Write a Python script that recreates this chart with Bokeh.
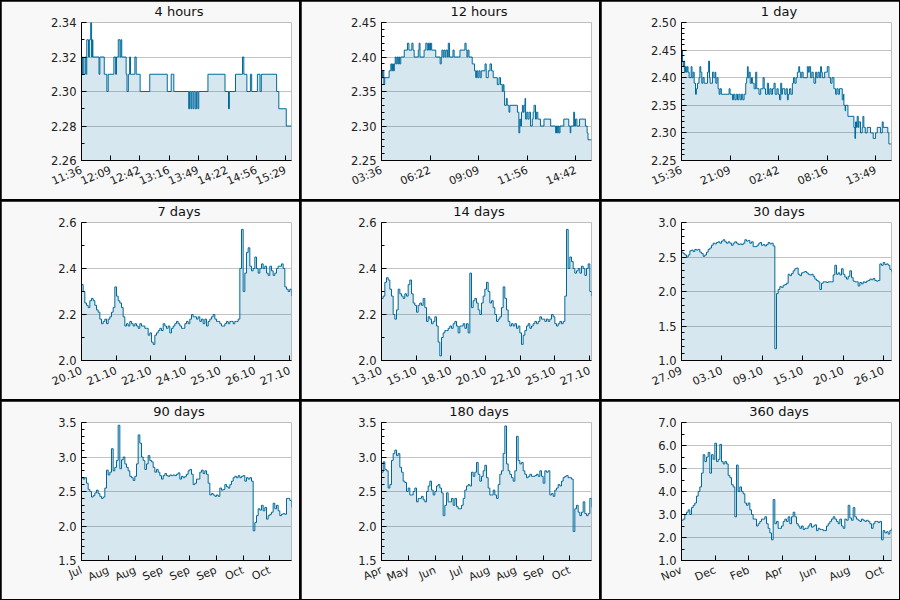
import numpy as np
from bokeh.plotting import figure
from bokeh.layouts import gridplot
from bokeh.models import Range1d, FixedTicker, PrintfTickFormatter
from bokeh.embed import file_html
from bokeh.resources import INLINE

LINE = "#00699a"
PANEL_BG = "#f8f8f8"
FONT = "DejaVu Sans"
TEXT = "#222222"
TITLE_SIZE = 13

# ---- 4 hours (minutes since 11:36) ----
t_4h = [0, 1, 2, 4, 5, 6, 8, 9, 10.5, 11.5, 12.5, 13, 20, 21, 26, 29, 30.5, 37, 39, 40,
        42, 44, 45, 46, 51, 52, 53.5, 55, 56, 61, 62.5, 67, 78, 98, 102.5, 105.5, 122.5,
        123.5, 125, 126, 127.5, 128.5, 130, 131.5, 133, 134, 144.5, 164, 168, 169, 176,
        184, 185.5, 189, 193, 194.5, 201, 204, 205.5, 223, 225.5, 234, 240]
v_4h = [2.31, 2.32, 2.31, 2.32, 2.31, 2.33, 2.32, 2.33, 2.34, 2.32, 2.33, 2.32, 2.31, 2.32,
        2.31, 2.30, 2.31, 2.32, 2.31, 2.32, 2.33, 2.32, 2.33, 2.32, 2.31, 2.30, 2.31, 2.32,
        2.31, 2.32, 2.31, 2.30, 2.31, 2.30, 2.31, 2.30, 2.29, 2.30, 2.29, 2.30, 2.29, 2.30,
        2.29, 2.30, 2.29, 2.30, 2.31, 2.30, 2.29, 2.30, 2.31, 2.32, 2.31, 2.30, 2.31, 2.30,
        2.31, 2.30, 2.31, 2.30, 2.29, 2.28, 2.28]
labels_4h = ["11:36", "12:09", "12:42", "13:16", "13:49", "14:22", "14:56", "15:29"]

# ---- 12 hours (minutes since 03:36) ----
t_12h = [0, 3, 5, 8, 11, 26, 32, 35, 38, 41, 44, 47, 50, 53, 56, 59, 62, 66, 78, 89, 94,
         104, 108, 112, 126, 129, 132, 146, 152, 157, 161, 165, 168, 172, 186, 201, 205,
         207, 211, 214, 218, 221, 226, 229, 233, 245, 249, 269, 286, 290, 293, 296, 300,
         311, 319, 323, 326, 330, 334, 338, 342, 355, 359, 366, 372, 377, 383, 397, 403,
         408, 414, 417, 420, 422, 428, 431, 437, 440, 466, 471, 474, 477, 480, 483, 486,
         489, 492, 494, 498, 502, 506, 511, 517, 520, 523, 528, 531, 536, 545, 557, 580,
         597, 600, 603, 606, 609, 612, 625, 642, 647, 649, 659, 662, 665, 670, 679, 699,
         705, 708, 720]
v_12h = [2.38, 2.37, 2.38, 2.36, 2.37, 2.38, 2.39, 2.38, 2.39, 2.38, 2.39, 2.40, 2.39,
         2.40, 2.39, 2.40, 2.39, 2.40, 2.41, 2.42, 2.41, 2.42, 2.41, 2.40, 2.41, 2.42,
         2.40, 2.41, 2.42, 2.41, 2.42, 2.41, 2.42, 2.41, 2.40, 2.39, 2.40, 2.41, 2.40,
         2.41, 2.40, 2.41, 2.40, 2.42, 2.40, 2.41, 2.40, 2.41, 2.42, 2.41, 2.40, 2.41,
         2.40, 2.39, 2.38, 2.37, 2.38, 2.37, 2.38, 2.37, 2.38, 2.39, 2.37, 2.38, 2.39,
         2.38, 2.37, 2.36, 2.37, 2.36, 2.35, 2.36, 2.35, 2.33, 2.34, 2.33, 2.32, 2.33,
         2.32, 2.29, 2.31, 2.30, 2.32, 2.33, 2.32, 2.33, 2.34, 2.31, 2.32, 2.31, 2.32,
         2.30, 2.31, 2.32, 2.33, 2.31, 2.32, 2.31, 2.30, 2.31, 2.30, 2.29, 2.30, 2.29,
         2.30, 2.29, 2.30, 2.31, 2.30, 2.29, 2.30, 2.32, 2.30, 2.31, 2.30, 2.31, 2.30,
         2.29, 2.28, 2.28]
labels_12h = ["03:36", "06:22", "09:09", "11:56", "14:42"]

# ---- 1 day (hours since 15:36) ----
t_1d = [0, 0.05, 0.12, 0.2, 0.28, 0.36, 0.45, 0.55, 0.65, 0.75, 0.87, 1.1, 1.2, 1.33,
        1.45, 1.6, 1.7, 1.83, 2.0, 2.1, 2.2, 2.32, 2.45, 2.59, 2.97, 3.1, 3.2, 3.27, 3.54,
        3.7, 3.85, 3.92, 4.05, 4.18, 4.3, 4.41, 4.55, 5.44, 5.55, 5.82, 5.95, 6.1, 6.25,
        6.4, 6.55, 6.7, 6.85, 7.0, 7.15, 7.34, 7.45, 7.53, 7.62, 7.72, 7.85, 8.0, 8.1, 8.3,
        8.48, 8.6, 8.86, 9.05, 9.32, 9.45, 9.6, 9.81, 9.95, 10.1, 10.25, 10.4, 10.57, 10.7,
        10.9, 11.05, 11.2, 11.34, 11.45, 11.53, 11.8, 11.95, 12.1, 12.2, 12.35, 12.5, 12.67,
        12.8, 12.95, 13.1, 13.24, 13.4, 13.5, 13.62, 13.75, 13.9, 14.38, 14.5, 14.6, 14.76,
        14.9, 15.05, 15.14, 15.33, 15.45, 15.6, 15.75, 15.9, 16.0, 16.09, 16.36, 16.55,
        16.66, 16.85, 17.04, 17.2, 17.42, 17.61, 17.75, 17.9, 18.05, 18.37, 18.5, 18.56,
        18.7, 18.75, 19.02, 19.7, 19.82, 19.89, 20.0, 20.08, 20.2, 20.27, 20.46, 20.65,
        20.73, 20.84, 21.0, 21.22, 21.6, 21.91, 22.18, 22.37, 22.75, 22.94, 23.05, 23.58,
        23.7, 24.0]
v_1d = [2.43, 2.45, 2.43, 2.42, 2.43, 2.41, 2.42, 2.41, 2.42, 2.41, 2.40, 2.42, 2.40,
        2.41, 2.39, 2.37, 2.38, 2.39, 2.40, 2.42, 2.41, 2.39, 2.40, 2.39, 2.41, 2.43,
        2.40, 2.39, 2.41, 2.40, 2.41, 2.39, 2.40, 2.38, 2.37, 2.38, 2.37, 2.38, 2.37,
        2.36, 2.37, 2.36, 2.37, 2.36, 2.37, 2.36, 2.37, 2.36, 2.37, 2.39, 2.40, 2.42,
        2.40, 2.41, 2.39, 2.40, 2.39, 2.38, 2.41, 2.38, 2.37, 2.38, 2.40, 2.38, 2.37,
        2.39, 2.37, 2.38, 2.37, 2.38, 2.39, 2.37, 2.38, 2.37, 2.36, 2.39, 2.37, 2.38,
        2.37, 2.38, 2.36, 2.37, 2.38, 2.37, 2.39, 2.40, 2.39, 2.40, 2.41, 2.42, 2.41,
        2.40, 2.41, 2.40, 2.42, 2.41, 2.42, 2.40, 2.41, 2.40, 2.39, 2.41, 2.40, 2.41,
        2.40, 2.42, 2.41, 2.40, 2.41, 2.41, 2.42, 2.40, 2.39, 2.40, 2.38, 2.37, 2.38,
        2.37, 2.38, 2.36, 2.37, 2.35, 2.34, 2.35, 2.33, 2.31, 2.29, 2.32, 2.31, 2.33,
        2.31, 2.32, 2.30, 2.31, 2.33, 2.31, 2.30, 2.31, 2.30, 2.29, 2.30, 2.31, 2.30,
        2.32, 2.31, 2.30, 2.28, 2.28]
labels_1d = ["15:36", "21:09", "02:42", "08:16", "13:49"]

# ---- evenly sampled series for the longer windows ----
v_7d = [2.33, 2.30, 2.25, 2.24, 2.23, 2.26, 2.27, 2.26, 2.24, 2.22, 2.21, 2.18, 2.16, 2.17,
        2.18, 2.16, 2.18, 2.19, 2.21, 2.23, 2.32, 2.28, 2.26, 2.25, 2.23, 2.19, 2.15, 2.16,
        2.15, 2.17, 2.16, 2.15, 2.16, 2.15, 2.14, 2.16, 2.15, 2.15, 2.14, 2.14, 2.11, 2.12,
        2.08, 2.07, 2.11, 2.12, 2.13, 2.14, 2.13, 2.16, 2.15, 2.14, 2.15, 2.12, 2.14, 2.15,
        2.16, 2.17, 2.16, 2.15, 2.14, 2.14, 2.16, 2.17, 2.16, 2.18, 2.20, 2.19, 2.19, 2.18,
        2.19, 2.17, 2.18, 2.16, 2.18, 2.15, 2.17, 2.18, 2.19, 2.20, 2.18, 2.17, 2.17, 2.16,
        2.15, 2.15, 2.16, 2.17, 2.16, 2.17, 2.17, 2.16, 2.17, 2.17, 2.18, 2.40, 2.57, 2.30,
        2.38, 2.47, 2.49, 2.41, 2.39, 2.40, 2.45, 2.40, 2.38, 2.40, 2.42, 2.40, 2.41, 2.38,
        2.37, 2.41, 2.39, 2.37, 2.38, 2.40, 2.41, 2.41, 2.42, 2.40, 2.32, 2.31, 2.30, 2.31,
        2.28]
labels_7d = ["20.10", "21.10", "22.10", "24.10", "25.10", "26.10", "27.10"]

v_14d = [2.27, 2.28, 2.34, 2.36, 2.35, 2.31, 2.28, 2.20, 2.18, 2.22, 2.31, 2.29, 2.28, 2.27,
         2.29, 2.28, 2.33, 2.35, 2.29, 2.25, 2.24, 2.21, 2.24, 2.25, 2.24, 2.27, 2.23, 2.17,
         2.19, 2.18, 2.16, 2.17, 2.19, 2.15, 2.08, 2.02, 2.10, 2.12, 2.13, 2.13, 2.14, 2.15,
         2.14, 2.16, 2.17, 2.15, 2.12, 2.15, 2.15, 2.16, 2.14, 2.16, 2.12, 2.38, 2.23, 2.26,
         2.27, 2.25, 2.22, 2.20, 2.25, 2.28, 2.31, 2.34, 2.30, 2.25, 2.26, 2.23, 2.20, 2.17,
         2.18, 2.19, 2.23, 2.32, 2.27, 2.22, 2.17, 2.15, 2.16, 2.15, 2.16, 2.14, 2.15, 2.12,
         2.07, 2.11, 2.13, 2.15, 2.16, 2.14, 2.15, 2.16, 2.17, 2.16, 2.17, 2.19, 2.18, 2.18,
         2.17, 2.18, 2.17, 2.18, 2.20, 2.19, 2.16, 2.15, 2.16, 2.17, 2.16, 2.17, 2.28, 2.57,
         2.40, 2.45, 2.43, 2.40, 2.38, 2.39, 2.40, 2.38, 2.41, 2.40, 2.37, 2.40, 2.42, 2.30,
         2.28]
labels_14d = ["13.10", "15.10", "18.10", "20.10", "22.10", "25.10", "27.10"]

v_30d = [2.57, 2.55, 2.53, 2.50, 2.53, 2.59, 2.60, 2.58, 2.61, 2.60, 2.61, 2.57, 2.55, 2.51,
         2.53, 2.57, 2.61, 2.63, 2.67, 2.70, 2.69, 2.71, 2.72, 2.70, 2.73, 2.75, 2.72, 2.70,
         2.72, 2.70, 2.67, 2.70, 2.72, 2.70, 2.68, 2.69, 2.68, 2.70, 2.75, 2.73, 2.74, 2.70,
         2.72, 2.65, 2.65, 2.66, 2.69, 2.71, 2.67, 2.68, 2.66, 2.68, 2.71, 2.69, 2.70, 2.66,
         1.17, 1.97, 2.03, 2.07, 2.06, 2.09, 2.10, 2.12, 2.25, 2.23, 2.26, 2.30, 2.33, 2.34,
         2.25, 2.23, 2.27, 2.28, 2.29, 2.27, 2.25, 2.24, 2.25, 2.22, 2.18, 2.16, 2.14, 2.03,
         2.12, 2.14, 2.14, 2.13, 2.14, 2.14, 2.14, 2.24, 2.38, 2.25, 2.27, 2.24, 2.33, 2.25,
         2.21, 2.18, 2.22, 2.30, 2.20, 2.15, 2.14, 2.14, 2.08, 2.13, 2.11, 2.14, 2.13, 2.15,
         2.16, 2.18, 2.17, 2.19, 2.16, 2.15, 2.16, 2.40, 2.38, 2.42, 2.39, 2.40, 2.38, 2.32,
         2.28]
labels_30d = ["27.09", "03.10", "09.10", "15.10", "20.10", "26.10"]

v_90d = [2.70, 2.68, 2.70, 2.62, 2.53, 2.50, 2.42, 2.44, 2.48, 2.52, 2.47, 2.43, 2.40, 2.42,
         2.55, 2.81, 2.74, 2.78, 3.12, 2.80, 2.85, 2.95, 3.46, 2.83, 2.96, 3.00, 2.90, 2.85,
         2.80, 2.72, 2.70, 2.66, 2.72, 2.90, 3.32, 3.20, 3.00, 2.95, 2.82, 2.90, 3.02, 2.95,
         2.93, 2.85, 2.78, 2.82, 2.78, 2.73, 2.68, 2.73, 2.76, 2.73, 2.72, 2.74, 2.73, 2.74,
         2.73, 2.75, 2.77, 2.68, 2.72, 2.70, 2.72, 2.75, 2.80, 2.82, 2.75, 2.60, 2.62, 2.68,
         2.68, 2.78, 2.81, 2.76, 2.80, 2.75, 2.62, 2.45, 2.47, 2.45, 2.43, 2.45, 2.43, 2.55,
         2.52, 2.53, 2.60, 2.57, 2.55, 2.60, 2.65, 2.70, 2.72, 2.70, 2.73, 2.70, 2.72, 2.73,
         2.65, 2.70, 2.68, 2.70, 2.65, 1.93, 2.05, 2.15, 2.25, 2.23, 2.30, 2.22, 2.27, 2.10,
         2.15, 2.17, 2.20, 2.33, 2.25, 2.30, 2.22, 2.15, 2.17, 2.18, 2.17, 2.40, 2.40, 2.37,
         2.27]
labels_90d = ["Jul", "Aug", "Aug", "Sep", "Sep", "Sep", "Oct", "Oct"]

v_180d = [2.78, 2.93, 2.82, 2.80, 2.55, 2.60, 2.95, 3.05, 3.10, 3.02, 3.05, 2.85, 2.78, 2.65,
          2.63, 2.50, 2.55, 2.45, 2.45, 2.50, 2.55, 2.35, 2.40, 2.40, 2.43, 2.38, 2.35, 2.50,
          2.58, 2.65, 2.52, 2.45, 2.50, 2.58, 2.60, 2.55, 2.48, 2.15, 2.30, 2.48, 2.35, 2.35,
          2.40, 2.30, 2.40, 2.28, 2.25, 2.25, 2.30, 2.40, 2.52, 2.58, 2.60, 2.58, 2.78, 2.72,
          2.78, 2.92, 2.75, 2.65, 2.72, 2.80, 2.88, 2.70, 2.55, 2.45, 2.45, 2.52, 2.45, 2.40,
          2.60, 2.75, 2.80, 3.05, 3.45, 2.90, 2.80, 2.75, 2.70, 2.65, 2.80, 3.30, 2.95, 2.90,
          2.92, 2.80, 2.75, 2.70, 2.72, 2.75, 2.72, 2.72, 2.73, 2.75, 2.72, 2.80, 2.72, 2.62,
          2.80, 2.78, 2.80, 2.45, 2.47, 2.43, 2.52, 2.55, 2.60, 2.58, 2.65, 2.70, 2.72, 2.73,
          2.70, 2.70, 2.68, 1.92, 2.25, 2.30, 2.20, 2.15, 2.20, 2.35, 2.18, 2.15, 2.18, 2.40,
          2.27]
labels_180d = ["Apr", "May", "Jun", "Jul", "Aug", "Aug", "Sep", "Oct"]

v_360d = [2.75, 2.80, 3.00, 3.10, 3.20, 3.00, 3.30, 3.40, 3.50, 3.80, 4.00, 4.20, 4.80, 5.60,
          5.30, 5.50, 5.70, 4.80, 5.60, 5.40, 6.10, 5.30, 5.40, 6.05, 5.30, 5.20, 5.30, 5.20,
          4.70, 4.60, 4.30, 4.20, 2.90, 5.15, 4.00, 4.20, 4.00, 3.90, 3.50, 3.40, 3.50, 3.20,
          3.00, 2.80, 2.80, 2.50, 2.60, 2.70, 2.80, 2.80, 2.90, 2.60, 2.40, 2.20, 1.90, 3.65,
          2.60, 2.70, 2.40, 2.40, 2.50, 2.70, 2.80, 2.70, 2.90, 2.60, 2.90, 3.10, 2.90, 2.60,
          2.50, 2.40, 2.50, 2.35, 2.40, 2.40, 2.50, 2.60, 2.45, 2.50, 2.55, 2.30, 2.40, 2.35,
          2.35, 2.30, 2.30, 2.50, 2.60, 2.70, 2.80, 2.90, 2.80, 2.70, 2.60, 2.80, 2.50, 2.40,
          2.80, 2.75, 3.40, 2.85, 2.75, 3.30, 2.90, 2.80, 2.75, 2.70, 2.80, 2.75, 2.70, 2.75,
          2.70, 2.60, 2.40, 2.60, 2.70, 2.70, 2.65, 2.70, 1.90, 2.30, 2.20, 2.25, 2.15, 2.30,
          2.40]
labels_360d = ["Nov", "Dec", "Feb", "Apr", "Jun", "Aug", "Oct"]

# DejaVu Sans advance widths (em) for the glyphs used in the headings
ADVANCE = {" ": 0.318, "a": 0.613, "d": 0.635, "h": 0.634, "o": 0.612, "r": 0.411,
           "s": 0.521, "u": 0.634, "y": 0.592}


def heading_width(text):
    return sum(ADVANCE.get(c, 0.636) for c in text) * TITLE_SIZE


def even_times(values, span):
    return np.linspace(0, span, len(values))


def tick_list(lo, hi, step):
    n = int(round((hi - lo) / step))
    return [round(lo + i * step, 4) for i in range(n + 1)]


def panel(title, x, y, span, ylo, yhi, ymajor, yminor, yfmt, xstep, xlabels):
    p = figure(width=298, height=198, output_backend="svg", toolbar_location=None,
               x_range=Range1d(0, span), y_range=Range1d(ylo, yhi),
               min_border_left=80, min_border_right=8, min_border_top=21,
               min_border_bottom=39, background_fill_color="white",
               border_fill_color=PANEL_BG, outline_line_color=None)

    p.varea_step(x=list(x), y1=list(y), y2=ylo, step_mode="after",
                 fill_color=LINE, fill_alpha=0.16)
    p.step(list(x), list(y), mode="after", line_color=LINE, line_width=1)

    # heading centred about 98 px right of the frame's left edge
    p.title.text = title
    p.title.align = "left"
    p.title.offset = 97.5 - heading_width(title) / 2
    p.title.vertical_align = "top"
    p.title.text_font = FONT
    p.title.text_font_size = f"{TITLE_SIZE}px"
    p.title.text_font_style = "normal"
    p.title.text_color = "#111111"
    p.title.standoff = 4

    xa = p.xaxis[0]
    xt = [round(i * xstep, 6) for i in range(len(xlabels))]
    xa.ticker = FixedTicker(ticks=xt, minor_ticks=[])
    xa.major_label_overrides = {t: lab for t, lab in zip(xt, xlabels)}
    xa.major_label_orientation = 0.4

    ya = p.yaxis[0]
    ya.ticker = FixedTicker(ticks=tick_list(ylo, yhi, ymajor),
                            minor_ticks=tick_list(ylo, yhi, yminor))
    ya.formatter = PrintfTickFormatter(format=yfmt)

    for ax in (xa, ya):
        ax.axis_line_color = "black"
        ax.axis_line_width = 1
        ax.major_tick_line_color = "black"
        ax.minor_tick_line_color = "black"
        ax.major_tick_in = 5
        ax.major_tick_out = 0
        ax.minor_tick_in = 3
        ax.minor_tick_out = 0
        ax.major_label_text_font = FONT
        ax.major_label_text_color = TEXT
    xa.major_label_text_font_size = "11px"
    xa.major_label_standoff = 9
    ya.major_label_text_font_size = "11.5px"
    ya.major_label_standoff = 5

    p.xgrid.grid_line_color = None
    p.ygrid.grid_line_color = "#c4c4c4"
    p.ygrid.grid_line_width = 1
    return p


figs = [
    panel("4 hours", t_4h, v_4h, 240, 2.26, 2.34, 0.02, 0.01, "%.2f", 240 / 7.2, labels_4h),
    panel("12 hours", t_12h, v_12h, 720, 2.25, 2.45, 0.05, 0.01, "%.2f", 720 / 4.32, labels_12h),
    panel("1 day", t_1d, v_1d, 24, 2.25, 2.50, 0.05, 0.01, "%.2f", 24 / 4.32, labels_1d),
    panel("7 days", even_times(v_7d, 7), v_7d, 7, 2.0, 2.6, 0.2, 0.1, "%.1f", 1.156, labels_7d),
    panel("14 days", even_times(v_14d, 14), v_14d, 14, 2.0, 2.6, 0.2, 0.1, "%.1f", 2.312, labels_14d),
    panel("30 days", even_times(v_30d, 30), v_30d, 30, 1.0, 3.0, 0.5, 0.1, "%.1f", 5.77, labels_30d),
    panel("90 days", even_times(v_90d, 90), v_90d, 90, 1.5, 3.5, 0.5, 0.1, "%.1f", 11.54, labels_90d),
    panel("180 days", even_times(v_180d, 180), v_180d, 180, 1.5, 3.5, 0.5, 0.1, "%.1f", 23.08, labels_180d),
    panel("360 days", even_times(v_360d, 360), v_360d, 360, 1.0, 7.0, 1.0, 0.5, "%.1f", 57.6, labels_360d),
]

grid = gridplot(figs, ncols=3, toolbar_location=None)
grid.spacing = 2
grid.styles = {"background-color": "black", "padding": "1px"}

open("out.html", "w").write(file_html(grid, INLINE))
